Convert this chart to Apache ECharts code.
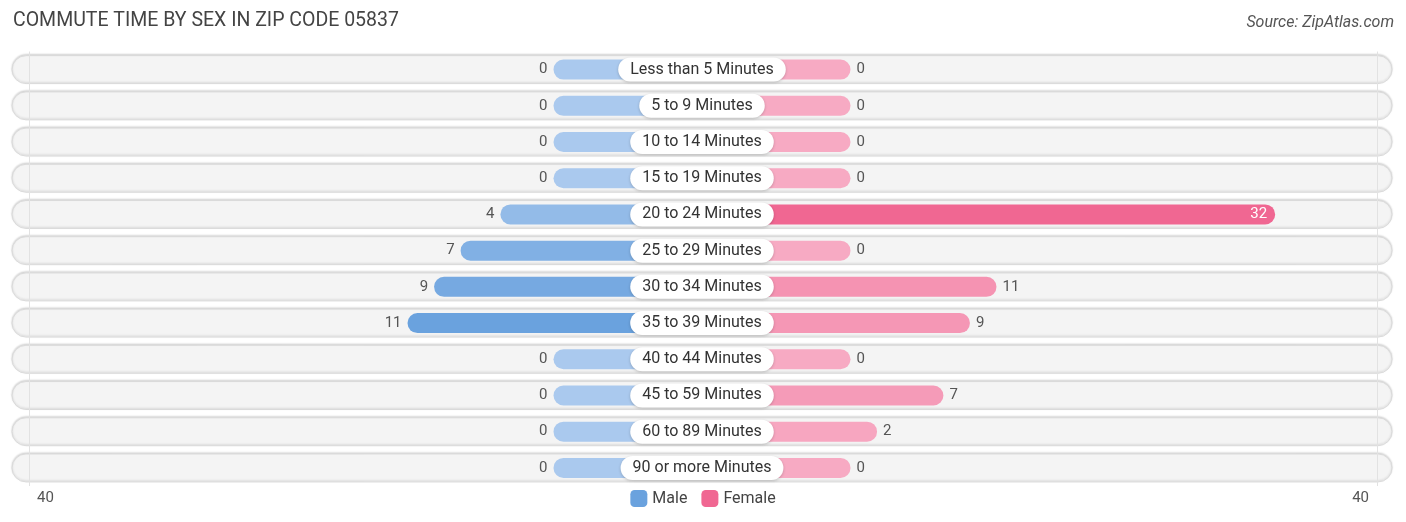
<!DOCTYPE html>
<html>
<head>
<meta charset="utf-8">
<script src="https://cdn.jsdelivr.net/npm/echarts@6/dist/echarts.min.js"></script>
<style>
  html, body { margin: 0; padding: 0; background: #fff; }
  #main { width: 1406px; height: 522px; }
</style>
</head>
<body>
<div id="main"></div>
<script>
// data
var categories = ['Less than 5 Minutes', '5 to 9 Minutes', '10 to 14 Minutes', '15 to 19 Minutes',
  '20 to 24 Minutes', '25 to 29 Minutes', '30 to 34 Minutes', '35 to 39 Minutes',
  '40 to 44 Minutes', '45 to 59 Minutes', '60 to 89 Minutes', '90 or more Minutes'];
var male = [0, 0, 0, 0, 4, 7, 9, 11, 0, 0, 0, 0];
var female = [0, 0, 0, 0, 32, 0, 11, 9, 0, 7, 2, 0];
var axisLabels = ['40', '40'];

var STUB = 11.19;      // room for the centre label, in axis units
var AXMAX = 40 + STUB;
var FULL = 52.07;

function mix(c1, c2, t) {
  var a = [parseInt(c1.substr(1, 2), 16), parseInt(c1.substr(3, 2), 16), parseInt(c1.substr(5, 2), 16)];
  var b = [parseInt(c2.substr(1, 2), 16), parseInt(c2.substr(3, 2), 16), parseInt(c2.substr(5, 2), 16)];
  var r = a.map(function (v, i) { return Math.round(v + (b[i] - v) * t); });
  return 'rgb(' + r.join(',') + ')';
}
var maleMax = Math.max.apply(null, male), femaleMax = Math.max.apply(null, female);

var maleData = male.map(function (v) {
  return {
    value: -(STUB + v),
    itemStyle: { color: mix('#aac9ee', '#6aa2de', v / maleMax) },
    label: { show: true, position: 'left', formatter: String(v) }
  };
});
var femaleData = female.map(function (v) {
  var inside = v > 25;
  return {
    value: STUB + v,
    itemStyle: { color: mix('#f7aac3', '#f06792', v / femaleMax) },
    label: {
      show: true,
      position: inside ? 'insideRight' : 'right',
      color: inside ? '#fff' : '#555',
      distance: inside ? 8 : 6,
      formatter: String(v)
    }
  };
});

var chart = echarts.init(document.getElementById('main'));
var option = {
  textStyle: { fontFamily: 'Roboto, sans-serif' },
  title: [
    {
      text: 'COMMUTE TIME BY SEX IN ZIP CODE 05837',
      left: 13, top: 11, padding: 0,
      textStyle: { fontSize: 19.5, fontWeight: 'normal', color: '#444', fontFamily: 'Roboto' }
    },
    {
      text: 'Source: ZipAtlas.com',
      right: 12, top: 15, padding: 0,
      textStyle: { fontSize: 16, fontWeight: 'normal', fontStyle: 'italic', color: '#555', fontFamily: 'Roboto' }
    }
  ],
  legend: {
    bottom: 10,
    left: 'center',
    itemWidth: 17, itemHeight: 17, itemGap: 14,
    textStyle: { fontSize: 16, color: '#444' },
    data: [
      { name: 'Male', icon: 'roundRect', itemStyle: { color: '#6aa2de' } },
      { name: 'Female', icon: 'roundRect', itemStyle: { color: '#f06792' } }
    ]
  },
  grid: { left: 11, right: 13, top: 51.5, bottom: 36 },
  xAxis: {
    type: 'value', min: -FULL, max: FULL,
    axisLine: { show: false }, axisTick: { show: false },
    axisLabel: { show: false }, splitLine: { show: false }
  },
  yAxis: {
    type: 'category', data: categories, inverse: true,
    axisLine: { show: false }, axisTick: { show: false },
    axisLabel: { show: false }, splitLine: { show: false }
  },
  graphic: [
    { type: 'text', left: 37, top: 491, style: { text: axisLabels[0], fontSize: 15, fill: '#555', fontFamily: 'Roboto' } },
    { type: 'text', right: 37, top: 491, style: { text: axisLabels[1], fontSize: 15, fill: '#555', fontFamily: 'Roboto' } }
  ],
  series: [
    {
      type: 'custom',
      silent: true,
      z: 1,
      data: categories.map(function (c, i) { return [i]; }),
      renderItem: function (params, api) {
        var idx = api.value(0);
        var p1 = api.coord([-FULL, idx]);
        var p2 = api.coord([FULL, idx]);
        var h = 28;
        return {
          type: 'rect',
          shape: { x: p1[0] + 1, y: p1[1] - h / 2, width: p2[0] - p1[0] - 2, height: h, r: h / 2 },
          style: { fill: '#f4f4f4', stroke: '#dadada', lineWidth: 1, shadowBlur: 2, shadowColor: 'rgba(0,0,0,0.15)', shadowOffsetY: -1 }
        };
      }
    },
    {
      name: 'Male',
      type: 'bar',
      z: 3,
      barWidth: 20,
      barGap: '-100%',
      itemStyle: { color: '#6aa2de', borderRadius: 10 },
      label: { fontSize: 15, color: '#555', distance: 6 },
      data: maleData,
      markLine: {
        silent: true, symbol: 'none', label: { show: false },
        lineStyle: { color: '#e2e2e2', width: 1, type: 'solid' },
        data: [{ xAxis: -AXMAX + 0.5 }, { xAxis: AXMAX - 0.3 }]
      }
    },
    {
      name: 'Female',
      type: 'bar',
      z: 3,
      barWidth: 20,
      barGap: '-100%',
      itemStyle: { color: '#f06792', borderRadius: 10 },
      label: { fontSize: 15, color: '#555', distance: 6 },
      data: femaleData
    },
    {
      type: 'custom',
      z: 10,
      silent: true,
      data: categories.map(function (c, i) { return [0, i]; }),
      renderItem: function (params, api) {
        var p = api.coord([0, api.value(1)]);
        return {
          type: 'text',
          z2: 100,
          x: p[0], y: p[1],
          style: {
            text: categories[params.dataIndex],
            align: 'center', verticalAlign: 'middle',
            fontSize: 16, fontFamily: 'Roboto', fill: '#333',
            backgroundColor: '#fff',
            borderRadius: 12,
            padding: [4, 12, 4, 12],
            shadowBlur: 3,
            shadowColor: 'rgba(0,0,0,0.2)',
            shadowOffsetY: 1
          }
        };
      }
    }
  ]
};
chart.setOption(option);
window.addEventListener('resize', function () { chart.resize(); });
</script>
</body>
</html>
